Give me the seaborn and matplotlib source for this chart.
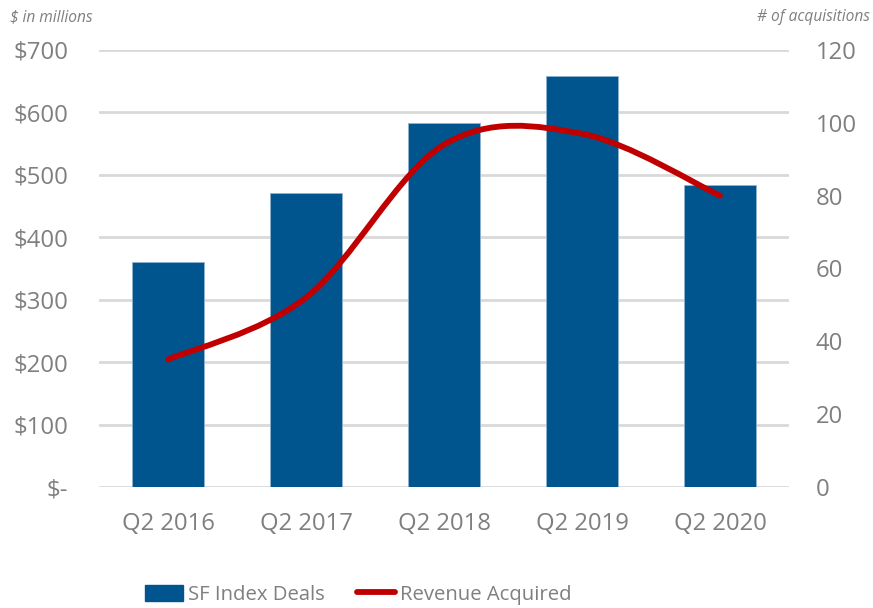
import numpy as np
import pandas as pd
import matplotlib
matplotlib.use("Agg")
import matplotlib.pyplot as plt
import seaborn as sns
from matplotlib.path import Path
from matplotlib.patches import PathPatch, Patch
from matplotlib.lines import Line2D

quarters = ["Q2 2016", "Q2 2017", "Q2 2018", "Q2 2019", "Q2 2020"]
deals = [360, 471, 583, 658, 484]          # $ in millions (left axis)
acquisitions = [35, 52, 94, 97, 80]        # # of acquisitions (right axis)
left_ticks = [0, 100, 200, 300, 400, 500, 600, 700]
left_labels = ["$-", "$100", "$200", "$300", "$400", "$500", "$600", "$700"]
right_ticks = [0, 20, 40, 60, 80, 100, 120]

bar_color = "#00558F"
line_color = "#C00000"
grey = "#7F7F7F"

sns.set_style("white")
plt.rcParams["font.family"] = ["Open Sans", "DejaVu Sans"]

fig = plt.figure(figsize=(8.73, 6.08), dpi=100)
ax = fig.add_axes([0.1134, 0.199, 0.7904, 0.7188])

df = pd.DataFrame({"quarter": quarters, "deals": deals})
sns.barplot(data=df, x="quarter", y="deals", color=bar_color, saturation=1,
            width=0.52, edgecolor="#8FB3D0", linewidth=0.6, ax=ax, zorder=2)
ax.set_ylim(0, 700)
ax.set_xlim(-0.5, 4.5)
ax.set_yticks(left_ticks)
ax.set_yticklabels(left_labels)
ax.set_xlabel("")
ax.set_ylabel("")
ax.grid(axis="y", color="#D9D9D9", linewidth=2, zorder=0)
ax.set_axisbelow(True)
for s in ax.spines.values():
    s.set_visible(False)
ax.tick_params(axis="y", length=0, pad=22, labelsize=17.2, labelcolor=grey)
ax.tick_params(axis="x", length=0, pad=18, labelsize=17.2, labelcolor=grey)

ax2 = ax.twinx()
ax2.set_ylim(0, 120)
ax2.set_yticks(right_ticks)
for s in ax2.spines.values():
    s.set_visible(False)
ax2.tick_params(axis="y", length=0, pad=19, labelsize=17.2, labelcolor=grey)

# smoothed line (Excel-style cubic Bezier through the points)
xs = np.arange(len(acquisitions), dtype=float)
ys = np.array(acquisitions, dtype=float)
verts = [(xs[0], ys[0])]
codes = [Path.MOVETO]
n = len(xs)
for i in range(n - 1):
    p0 = np.array([xs[max(i - 1, 0)], ys[max(i - 1, 0)]])
    p1 = np.array([xs[i], ys[i]])
    p2 = np.array([xs[i + 1], ys[i + 1]])
    p3 = np.array([xs[min(i + 2, n - 1)], ys[min(i + 2, n - 1)]])
    c1 = p1 + (p2 - p0) / 6
    c2 = p2 - (p3 - p1) / 6
    verts += [tuple(c1), tuple(c2), tuple(p2)]
    codes += [Path.CURVE4] * 3
ax2.add_patch(PathPatch(Path(verts, codes), facecolor="none", edgecolor=line_color,
                        linewidth=4.2, capstyle="round", zorder=3))

fig.text(0.011, 0.972, "$ in millions", fontsize=11.2, style="italic", color=grey,
         ha="left", va="center")
fig.text(0.996, 0.972, "# of acquisitions", fontsize=11.2, style="italic", color=grey,
         ha="right", va="center")

handles = [Patch(facecolor=bar_color, edgecolor=bar_color),
           Line2D([0], [0], color=line_color, linewidth=4.2, solid_capstyle="round")]
fig.legend(handles, ["SF Index Deals", "Revenue Acquired"], loc="center",
           bbox_to_anchor=(0.41, 0.022), ncol=2, frameon=False, fontsize=14.6,
           labelcolor=grey, handlelength=1.9, handleheight=0.85,
           handletextpad=0.22, columnspacing=1.6, borderpad=0, borderaxespad=0)

fig.savefig("out.png", dpi=100)
